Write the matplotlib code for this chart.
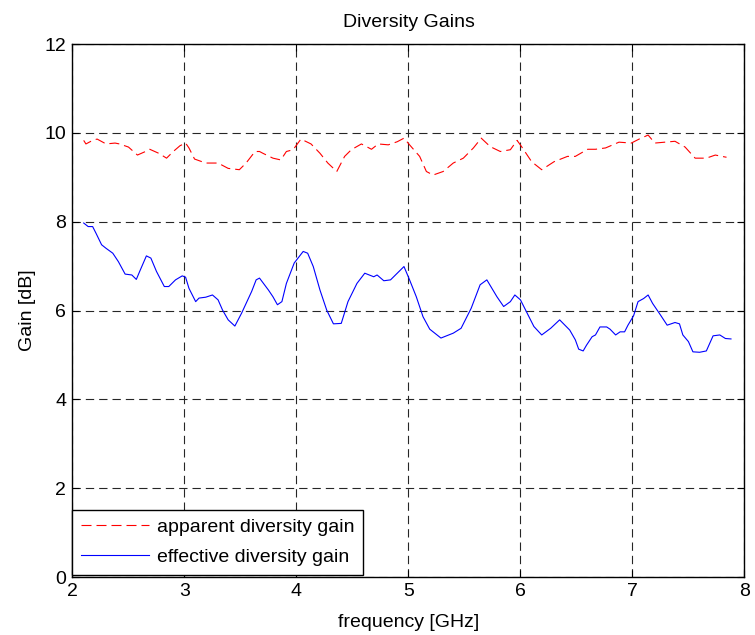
import matplotlib
matplotlib.use("Agg")
import matplotlib.pyplot as plt
import numpy as np

plt.rcParams['font.family'] = ['Liberation Sans', 'DejaVu Sans']

# apparent diversity gain (red dashed)
f_app = [2.10, 2.12, 2.18, 2.22, 2.30, 2.38, 2.42, 2.50, 2.58, 2.67, 2.69, 2.77, 2.84,
         2.90, 2.96, 3.01, 3.04, 3.09, 3.19, 3.30, 3.39, 3.49, 3.55, 3.63, 3.67, 3.70,
         3.79, 3.86, 3.91, 3.97, 4.04, 4.13, 4.21, 4.28, 4.36, 4.43, 4.49, 4.58, 4.67,
         4.73, 4.82, 4.90, 4.96, 5.01, 5.10, 5.16, 5.22, 5.31, 5.40, 5.49, 5.58, 5.65,
         5.73, 5.82, 5.91, 5.97, 6.01, 6.10, 6.19, 6.30, 6.42, 6.49, 6.60, 6.67, 6.76,
         6.88, 6.99, 7.06, 7.14, 7.20, 7.29, 7.38, 7.47, 7.56, 7.66, 7.74, 7.84]
g_app = [9.83, 9.75, 9.83, 9.86, 9.75, 9.77, 9.75, 9.68, 9.50, 9.60, 9.63, 9.54, 9.43,
         9.58, 9.71, 9.77, 9.66, 9.41, 9.32, 9.32, 9.20, 9.17, 9.32, 9.58, 9.58, 9.54,
         9.43, 9.39, 9.58, 9.62, 9.86, 9.75, 9.54, 9.32, 9.13, 9.47, 9.62, 9.75, 9.63,
         9.75, 9.73, 9.80, 9.88, 9.73, 9.47, 9.13, 9.05, 9.13, 9.32, 9.43, 9.66, 9.88,
         9.69, 9.58, 9.62, 9.83, 9.69, 9.35, 9.17, 9.35, 9.47, 9.47, 9.63, 9.63, 9.66,
         9.79, 9.77, 9.86, 9.95, 9.77, 9.79, 9.81, 9.68, 9.43, 9.43, 9.50, 9.45]

# effective diversity gain (blue solid)
f_eff = [2.10, 2.14, 2.18, 2.21, 2.26, 2.30, 2.36, 2.41, 2.47, 2.53, 2.57, 2.60, 2.66,
         2.70, 2.75, 2.82, 2.86, 2.92, 2.98, 3.01, 3.04, 3.10, 3.13, 3.19, 3.25, 3.30,
         3.34, 3.39, 3.45, 3.51, 3.60, 3.64, 3.67, 3.75, 3.79, 3.83, 3.87, 3.91, 3.98,
         4.06, 4.10, 4.15, 4.21, 4.27, 4.33, 4.40, 4.46, 4.54, 4.61, 4.69, 4.72, 4.78,
         4.84, 4.90, 4.96, 5.01, 5.07, 5.13, 5.19, 5.29, 5.40, 5.47, 5.56, 5.64, 5.70,
         5.79, 5.85, 5.91, 5.95, 6.00, 6.06, 6.12, 6.19, 6.27, 6.35, 6.44, 6.49, 6.52,
         6.56, 6.59, 6.64, 6.67, 6.71, 6.77, 6.80, 6.85, 6.89, 6.93, 6.96, 7.01, 7.05,
         7.10, 7.14, 7.18, 7.25, 7.31, 7.38, 7.42, 7.45, 7.50, 7.54, 7.60, 7.66, 7.72,
         7.78, 7.83, 7.88]
g_eff = [7.97, 7.89, 7.89, 7.74, 7.48, 7.40, 7.29, 7.10, 6.82, 6.80, 6.70, 6.88, 7.23,
         7.18, 6.88, 6.54, 6.54, 6.69, 6.78, 6.75, 6.50, 6.20, 6.28, 6.30, 6.35, 6.24,
         6.01, 5.79, 5.65, 5.94, 6.43, 6.69, 6.73, 6.46, 6.31, 6.13, 6.20, 6.61, 7.07,
         7.33, 7.29, 6.99, 6.46, 6.01, 5.70, 5.71, 6.20, 6.61, 6.84, 6.76, 6.80, 6.67,
         6.69, 6.84, 6.99, 6.69, 6.31, 5.86, 5.58, 5.38, 5.49, 5.60, 6.05, 6.58, 6.69,
         6.31, 6.09, 6.20, 6.35, 6.24, 5.94, 5.64, 5.45, 5.60, 5.79, 5.56, 5.34, 5.13,
         5.09, 5.22, 5.41, 5.45, 5.63, 5.63, 5.58, 5.45, 5.52, 5.52, 5.67, 5.88, 6.20,
         6.27, 6.35, 6.16, 5.90, 5.67, 5.73, 5.70, 5.45, 5.30, 5.07, 5.06, 5.09, 5.43,
         5.45, 5.37, 5.36]

xticks = [2, 3, 4, 5, 6, 7, 8]
yticks = [0, 2, 4, 6, 8, 10, 12]

fig = plt.figure(figsize=(7.55, 6.35), dpi=100, facecolor='white')
ax = fig.add_axes([0.096, 0.0913, 0.89, 0.8394])

ax.plot(f_app, g_app, color='red', lw=0.8, linestyle=(0, (9, 4.5)),
        label='apparent diversity gain')
ax.plot(f_eff, g_eff, color='blue', lw=0.8, label='effective diversity gain')

ax.set_xlim(2, 8)
ax.set_ylim(0, 12)
ax.set_xticks(xticks)
ax.set_yticks(yticks)
ax.grid(True, color='0.15', lw=0.8, linestyle=(0, (7.5, 4.5)))
ax.tick_params(direction='in', top=True, right=True, length=5, labelsize=14, pad=4.5)
for s in ax.spines.values():
    s.set_linewidth(1.0)

ax.set_title('Diversity Gains', fontsize=14, pad=12)
ax.set_xlabel('frequency [GHz]', fontsize=14, labelpad=10)
ax.set_ylabel('Gain [dB]', fontsize=14, labelpad=6)

leg = ax.legend(loc='lower left', bbox_to_anchor=(0, 0.004), borderaxespad=0,
                fontsize=14, fancybox=False, framealpha=1, edgecolor='black',
                handlelength=3.5, handletextpad=0.4, labelspacing=0.65,
                borderpad=0.45)
leg.get_frame().set_linewidth(1.0)

fig.savefig('out.png', dpi=100)
